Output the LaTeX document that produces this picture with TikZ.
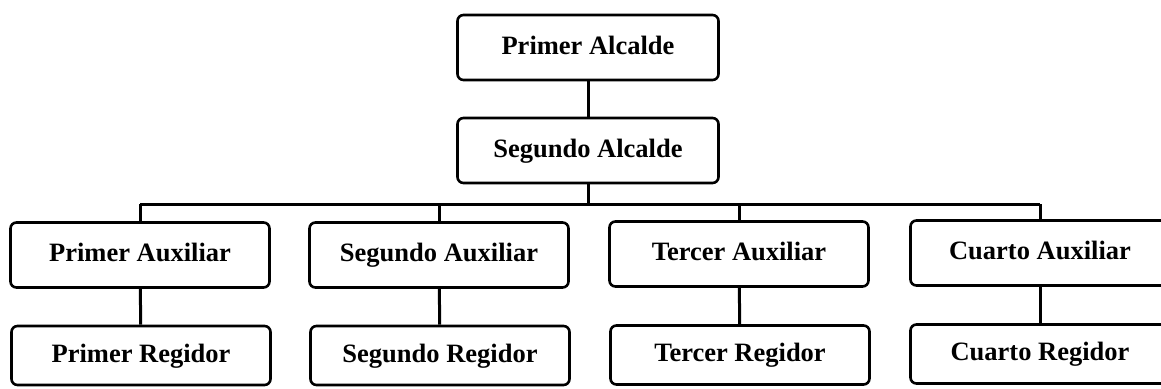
\documentclass[tikz,border=0pt]{standalone}
\usepackage{fontspec}
\setmainfont{Liberation Serif}
\usetikzlibrary{positioning}
\tikzset{%
	cargo/.style    = {draw, line width = 2.6pt, rectangle, rounded corners = 6pt,
		fill = white, font = \fontsize{26.5}{30}\selectfont\bfseries,
		text height = 19pt, text depth = 6pt,
		minimum width = 259pt, minimum height = 65pt, inner sep = 0pt},
	regidor/.style  = {cargo, minimum height = 59pt},
	enlace/.style   = {line width = 3pt} % Connector
}

\begin{document}
\begin{tikzpicture}[x=1pt,y=-1pt]
                \useasboundingbox (0,0) rectangle (1161,388);

                \coordinate (busL) at (140,204);
                \coordinate (busR) at (1040,204);

                \node[cargo, minimum width = 261pt] (alc1) at (588,47.5)  {Primer Alcalde} ;
                \node[cargo, minimum width = 261pt] (alc2) at (588,150.5) {Segundo Alcalde} ;

                \node[cargo] (aux1) at (140,255) {Primer Auxiliar} ;
                \node[cargo] (aux2) at (439,255) {Segundo Auxiliar} ;
                \node[cargo] (aux3) at (739,254) {Tercer Auxiliar} ;
                \node[cargo] (aux4) at (1040,253) {Cuarto Auxiliar} ;

                \node[regidor] (reg1) at (141,355.5) {Primer Regidor} ;
                \node[regidor] (reg2) at (440,355.5) {Segundo Regidor} ;
                \node[regidor] (reg3) at (740,355) {Tercer Regidor} ;
                \node[regidor] (reg4) at (1040,354) {Cuarto Regidor} ;

                \draw[enlace] (alc1) -- (alc2);
                \draw[enlace] (alc2) -- (alc2 |- busL);
                \draw[enlace] (busL) -- (busR);
                \draw[enlace] (busL) -- (aux1);
                \draw[enlace] (aux2.north |- busL) -- (aux2);
                \draw[enlace] (aux3.north |- busL) -- (aux3);
                \draw[enlace] (busR) -- (aux4);
                \draw[enlace] (aux1) -- (reg1);
                \draw[enlace] (aux2) -- (reg2);
                \draw[enlace] (aux3) -- (reg3);
                \draw[enlace] (aux4) -- (reg4);
            \end{tikzpicture}
\end{document}
